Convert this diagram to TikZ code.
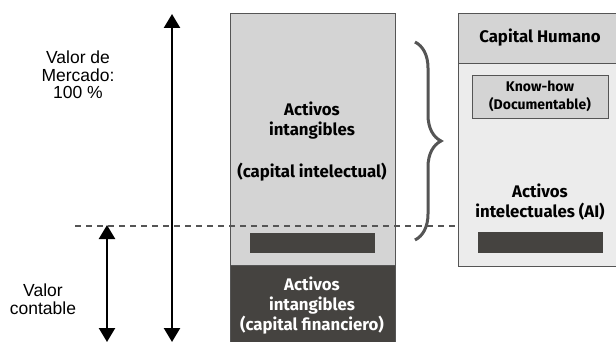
\documentclass[tikz,border=0pt]{standalone}
\usepackage{fontspec}
\setmainfont{Fira Sans}
\newfontfamily\plainsans{Liberation Sans}
\usetikzlibrary{arrows.meta, decorations.pathreplacing}

\definecolor{lightbox}{HTML}{D4D4D4}
\definecolor{palebox}{HTML}{ECECEC}
\definecolor{darkbox}{HTML}{454340}
\definecolor{edgegray}{HTML}{555555}

\begin{document}
\begin{tikzpicture}[x=1pt, y=-1pt,
	box/.style={draw=edgegray, line width=1.2pt, inner sep=0pt, anchor=north west},
	bar/.style={fill=darkbox, draw=none, inner sep=0pt, anchor=north west},
	txt/.style={font=\bfseries\fontsize{16.8}{20}\selectfont, align=center, inner sep=0pt},
	side/.style={font=\plainsans\fontsize{17.5}{17.5}\selectfont, align=center, inner sep=0pt},
	measure/.style={line width=2.4pt, {Triangle[length=14pt, width=16pt]}-{Triangle[length=14pt, width=16pt]}}]
	\clip (0,0) rectangle (616,342);

	% columna izquierda
	\node[box, fill=lightbox, minimum width=165, minimum height=256] (intang) at (230,13) {};
	\node[box, fill=darkbox, minimum width=165, minimum height=82] (financ) at (230,265) {};
	\node[bar, minimum width=125, minimum height=20] (barleft) at (250,233) {};

	% columna derecha
	\node[box, fill=palebox, minimum width=160, minimum height=253] (human) at (458,13) {};
	\node[box, fill=lightbox, minimum width=160, minimum height=50] (head) at (458,13) {};
	\node[box, fill=lightbox, minimum width=136, minimum height=43] (knowbox) at (472,75) {};
	\node[bar, minimum width=125, minimum height=21] (barright) at (478,232) {};

	% textos
	\node[txt] (tint) at (312,121) {Activos\\intangibles};
	\node[txt] (tcap) at (312,172) {(capital intelectual)};
	\node[txt, text=white] (tfin) at (312,306) {Activos\\intangibles\\(capital financiero)};
	\node[txt] (thum) at (540,38) {Capital Humano};
	\node[txt, font=\bfseries\fontsize{14}{18}\selectfont] (tknow) at (540,96) {Know-how\\(Documentable)};
	\node[txt] (tai) at (540,202) {Activos\\intelectuales (AI)};

	\node[side] (tmarket) at (78,75) {Valor de\\Mercado:\\100 \%};
	\node[side] (tbook) at (43,299) {Valor\\contable};

	% flechas
	\coordinate (mtop) at (172,14);
	\coordinate (mbot) at (172,342);
	\coordinate (btop) at (107,225);
	\coordinate (bbot) at (107,342);
	\draw[measure] (mtop) -- (mbot);
	\draw[measure] (btop) -- (bbot);

	% linea de corte
	\coordinate (cutl) at (75,226);
	\coordinate (cutr) at (457,226);
	\draw[edgegray, line width=1.5pt, dash pattern=on 6pt off 5pt] (cutl) -- (cutr);

	% llave
	\coordinate (bracetop) at (415,42);
	\coordinate (bracebot) at (415,240);
	\draw[edgegray, line width=3pt, decorate, decoration={brace, amplitude=26pt}] (bracetop) -- (bracebot);
\end{tikzpicture}
\end{document}
